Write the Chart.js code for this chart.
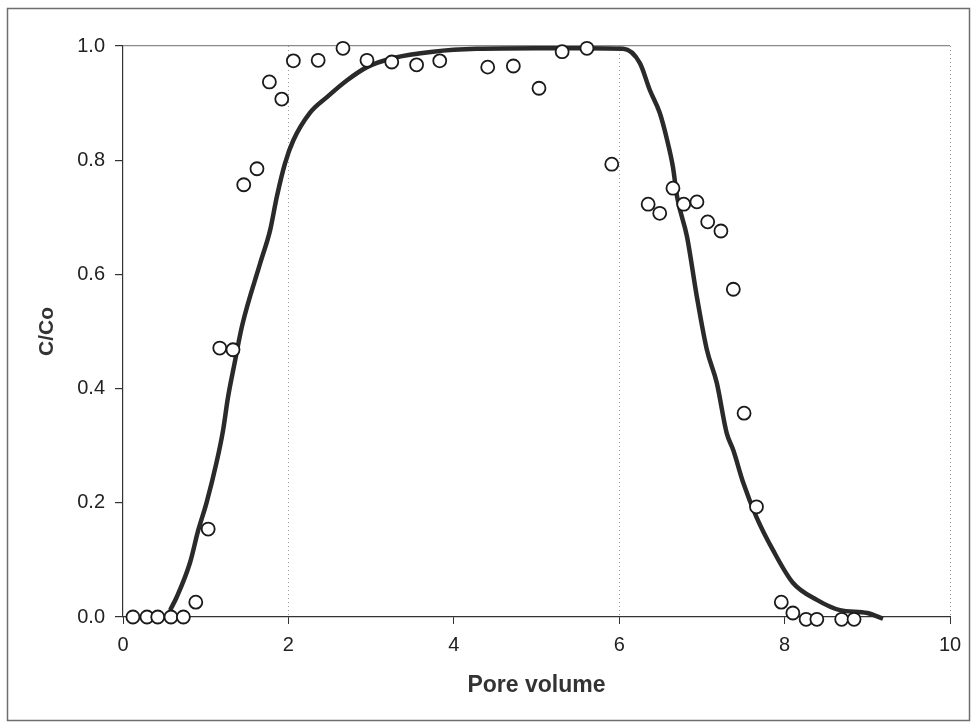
<!DOCTYPE html>
<html>
<head>
<meta charset="utf-8">
<script src="https://cdn.jsdelivr.net/npm/chart.js@4/dist/chart.umd.min.js"></script>
<style>
  html, body { margin: 0; padding: 0; background: #fff; }
  #chart1 { display: block; }
</style>
</head>
<body>
<canvas id="chart1" width="977" height="724"></canvas>
<script>
'use strict';
// measured points (open circles)
var pointX = [0.12, 0.29, 0.42, 0.58, 0.73, 0.88, 1.03, 1.17, 1.33, 1.46, 1.62, 1.77, 1.92, 2.06, 2.36, 2.66, 2.95, 3.25, 3.55, 3.83, 4.41, 4.72, 5.03, 5.31, 5.61, 5.91, 6.35, 6.49, 6.65, 6.78, 6.94, 7.07, 7.23, 7.38, 7.51, 7.66, 7.96, 8.10, 8.26, 8.39, 8.69, 8.84];
var pointY = [0, 0, 0, 0, 0, 0.026, 0.154, 0.471, 0.468, 0.757, 0.785, 0.937, 0.907, 0.974, 0.975, 0.996, 0.975, 0.972, 0.967, 0.974, 0.963, 0.965, 0.926, 0.99, 0.996, 0.793, 0.723, 0.707, 0.751, 0.723, 0.727, 0.692, 0.676, 0.574, 0.357, 0.193, 0.026, 0.007, -0.004, -0.004, -0.004, -0.004];

// fitted curve (thick line)
var curveX = [0.57, 0.65, 0.81, 0.91, 1.01, 1.13, 1.21, 1.27, 1.35, 1.44, 1.66, 1.78, 1.86, 1.96, 2.06, 2.26, 2.47, 2.71, 2.95, 3.27, 3.75, 4.28, 5.0, 5.6, 6.05, 6.25, 6.37, 6.49, 6.58, 6.65, 6.70, 6.82, 6.94, 7.06, 7.18, 7.30, 7.38, 7.50, 7.66, 7.86, 8.10, 8.39, 8.67, 9.0, 9.19];
var curveY = [0.012, 0.035, 0.095, 0.152, 0.2, 0.27, 0.327, 0.385, 0.445, 0.51, 0.62, 0.678, 0.736, 0.795, 0.835, 0.883, 0.911, 0.94, 0.963, 0.979, 0.99, 0.995, 0.996, 0.996, 0.995, 0.97, 0.923, 0.883, 0.835, 0.788, 0.736, 0.666, 0.56, 0.468, 0.41, 0.322, 0.292, 0.235, 0.175, 0.117, 0.06, 0.03, 0.012, 0.007, -0.003];

var xTicks = [0, 2, 4, 6, 8, 10];
var yTicks = [0, 0.2, 0.4, 0.6, 0.8, 1.0];

var toXY = function (xs, ys) {
	var out = [];
	for (var i = 0; i < xs.length; i++) {
		out.push({ x: xs[i], y: ys[i] });
	}
	return out;
};

// outer frame of the figure
var framePlugin = {
	id: 'frame',
	afterDraw: function (chart) {
		var ctx = chart.ctx;
		ctx.save();
		ctx.strokeStyle = '#6e6e6e';
		ctx.lineWidth = 1.5;
		ctx.strokeRect(7.5, 8.5, 962, 712);
		ctx.restore();
	}
};

var ctx = document.getElementById('chart1').getContext('2d');
var myChart = new Chart(ctx, {
	type: 'scatter',
	data: {
		datasets: [{
			label: 'Measured',
			data: toXY(pointX, pointY),
			pointRadius: 6.5,
			pointBackgroundColor: '#ffffff',
			pointBorderColor: '#1a1a1a',
			pointBorderWidth: 1.8,
			showLine: false,
			clip: false
		}, {
			label: 'Model',
			data: toXY(curveX, curveY),
			showLine: true,
			pointRadius: 0,
			borderColor: '#2a2a2a',
			borderWidth: 4.5,
			cubicInterpolationMode: 'monotone',
			clip: false
		}]
	},
	options: {
		responsive: false,
		animation: false,
		layout: {
			padding: { left: 0, top: 46, right: 27, bottom: 0 }
		},
		plugins: {
			legend: { display: false },
			tooltip: { enabled: false }
		},
		scales: {
			x: {
				type: 'linear',
				min: 0,
				max: 10,
				afterFit: function (scale) { scale.height = 107; },
				afterBuildTicks: function (scale) {
					scale.ticks = xTicks.map(function (v) { return { value: v }; });
				},
				ticks: {
					color: '#222',
					font: { family: 'Arial, "Liberation Sans", sans-serif', size: 20 },
					padding: 9,
					maxRotation: 0
				},
				grid: {
					color: function (c) {
						var v = c.tick ? c.tick.value : null;
						return (v === 2 || v === 6 || v === 10) ? '#9a9a9a' : 'rgba(0,0,0,0)';
					},
					lineWidth: 1,
					tickColor: '#333',
					tickLength: 7
				},
				border: { color: '#333', width: 1.2, dash: [1, 3] },
				title: {
					display: true,
					text: 'Pore volume',
					color: '#333',
					font: { family: 'Arial, "Liberation Sans", sans-serif', size: 23, weight: 'bold' },
					padding: { top: 0, bottom: 25 }
				}
			},
			y: {
				type: 'linear',
				min: 0,
				max: 1,
				afterFit: function (scale) { scale.width = 123; },
				afterBuildTicks: function (scale) {
					scale.ticks = yTicks.map(function (v) { return { value: v }; });
				},
				ticks: {
					color: '#222',
					font: { family: 'Arial, "Liberation Sans", sans-serif', size: 20 },
					padding: 10,
					callback: function (v) { return Number(v).toFixed(1); }
				},
				grid: {
					color: function (c) {
						var v = c.tick ? c.tick.value : null;
						return v === 1 ? '#8a8a8a' : 'rgba(0,0,0,0)';
					},
					lineWidth: 1.2,
					tickColor: '#333',
					tickLength: 8
				},
				border: { color: '#333', width: 1.2 },
				title: {
					display: true,
					text: 'C/Co',
					color: '#333',
					font: { family: 'Arial, "Liberation Sans", sans-serif', size: 21, weight: 'bold' },
					padding: { top: 35, bottom: 0 }
				}
			}
		}
	},
	plugins: [framePlugin]
});
</script>
</body>
</html>
